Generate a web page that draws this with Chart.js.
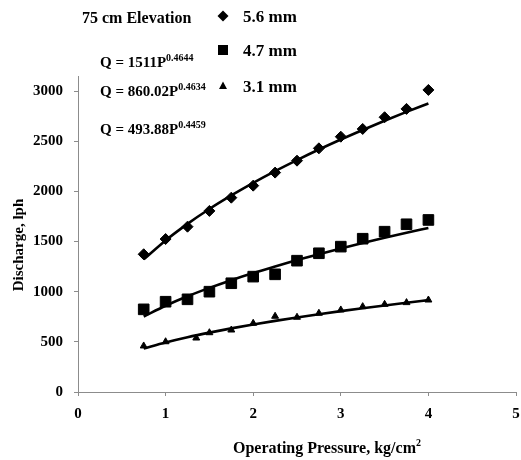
<!DOCTYPE html>
<html>
<head>
<meta charset="utf-8">
<script src="https://cdn.jsdelivr.net/npm/chart.js@4/dist/chart.umd.min.js"></script>
<style>
  html, body { margin: 0; padding: 0; background: #fff; }
  canvas { display: block; }
</style>
</head>
<body>
<canvas id="c" width="521" height="460"></canvas>
<script>
// ---- data ----
const pressure = [0.75, 1, 1.25, 1.5, 1.75, 2, 2.25, 2.5, 2.75, 3, 3.25, 3.5, 3.75, 4];
const pressure31 = [0.75, 1, 1.35, 1.5, 1.75, 2, 2.25, 2.5, 2.75, 3, 3.25, 3.5, 3.75, 4];
const obs56 = [1373, 1525, 1648, 1805, 1937, 2057, 2187, 2306, 2429, 2545, 2622, 2739, 2822, 3011];
const obs47 = [824, 900, 924, 1000, 1084, 1150, 1173, 1309, 1383, 1449, 1528, 1598, 1672, 1715];
const obs31 = [459, 501, 538, 591, 618, 685, 755, 745, 785, 818, 851, 874, 891, 917];
// trend (power fit) curves
const fit56 = [1322, 1511, 1676, 1824, 1959, 2085, 2202, 2312, 2417, 2517, 2612, 2704, 2792, 2876];
const fit47 = [753, 860, 954, 1038, 1115, 1186, 1252, 1315, 1374, 1431, 1485, 1537, 1587, 1635];
const fit31 = [434, 494, 546, 592, 634, 673, 709, 743, 775, 806, 835, 863, 890, 916];
const seriesNames = ['5.6 mm', '4.7 mm', '3.1 mm'];
const equations = [['Q = 1511P', '0.4644'], ['Q = 860.02P', '0.4634'], ['Q = 493.88P', '0.4459']];
const xTicks = [0, 1, 2, 3, 4, 5];
const yTicks = [0, 500, 1000, 1500, 2000, 2500, 3000];
const chartTitle = '75 cm Elevation';
const xTitle = 'Operating Pressure, kg/cm';
const yTitle = 'Discharge, lph';

const FONT = '"Liberation Serif", "Times New Roman", serif';
const pts = (xs, ys) => xs.map((x, i) => ({ x: x, y: ys[i] }));

function markerDs(label, xs, ys, style, r) {
  return { label, data: pts(xs, ys), showLine: false, pointStyle: style, pointRadius: r,
    pointHoverRadius: r, pointBackgroundColor: '#000', pointBorderColor: '#000', pointBorderWidth: 1, order: 1 };
}
function fitDs(label, xs, ys) {
  return { label, data: pts(xs, ys), showLine: true, pointRadius: 0, borderColor: '#000',
    borderWidth: 2.6, tension: 0.4, cubicInterpolationMode: 'monotone', fill: false, order: 2 };
}

const textPlugin = {
  id: 'texts',
  afterDraw(chart) {
    const ctx = chart.ctx;
    ctx.save();
    ctx.fillStyle = '#000';
    ctx.textBaseline = 'alphabetic';
    ctx.textAlign = 'left';
    // title
    ctx.font = 'bold 16px ' + FONT;
    ctx.fillText(chartTitle, 82, 23);
    // legend
    const rows = [16, 50, 86];
    ctx.font = 'bold 17px ' + FONT;
    seriesNames.forEach((n, i) => ctx.fillText(n, 243, rows[i] + 6));
    const mx = 223;
    ctx.beginPath();
    ctx.moveTo(mx, rows[0] - 5.5); ctx.lineTo(mx + 5.5, rows[0]); ctx.lineTo(mx, rows[0] + 5.5); ctx.lineTo(mx - 5.5, rows[0]);
    ctx.closePath(); ctx.fill();
    ctx.fillRect(mx - 5, rows[1] - 5, 10, 10);
    ctx.beginPath();
    ctx.moveTo(mx, rows[2] - 4.5); ctx.lineTo(mx + 4, rows[2] + 3); ctx.lineTo(mx - 4, rows[2] + 3);
    ctx.closePath(); ctx.fill();
    // equations
    const eqBase = [67, 96, 134];
    equations.forEach((e, i) => {
      ctx.font = 'bold 15px ' + FONT;
      ctx.fillText(e[0], 100, eqBase[i]);
      const w = ctx.measureText(e[0]).width;
      ctx.font = 'bold 10px ' + FONT;
      ctx.fillText(e[1], 100 + w, eqBase[i] - 6);
    });
    // y title
    ctx.save();
    ctx.translate(23, 245);
    ctx.rotate(-Math.PI / 2);
    ctx.textAlign = 'center';
    ctx.font = 'bold 15px ' + FONT;
    ctx.fillText(yTitle, 0, 0);
    ctx.restore();
    // x title
    ctx.font = 'bold 16px ' + FONT;
    const tw = ctx.measureText(xTitle).width;
    ctx.font = 'bold 10px ' + FONT;
    const sw = ctx.measureText('2').width;
    const x0 = 327 - (tw + sw) / 2;
    ctx.font = 'bold 16px ' + FONT;
    ctx.fillText(xTitle, x0, 453);
    ctx.font = 'bold 10px ' + FONT;
    ctx.fillText('2', x0 + tw, 446);
    ctx.restore();
  }
};

const axisColor = '#8c8c8c';
new Chart(document.getElementById('c'), {
  type: 'scatter',
  data: {
    datasets: [
      markerDs(seriesNames[0], pressure, obs56, 'rectRot', 5.5),
      markerDs(seriesNames[1], pressure, obs47, 'rect', 7.5),
      markerDs(seriesNames[2], pressure31, obs31, 'triangle', 4),
      fitDs('fit 5.6', pressure, fit56),
      fitDs('fit 4.7', pressure, fit47),
      fitDs('fit 3.1', pressure, fit31)
    ]
  },
  options: {
    responsive: false,
    animation: false,
    layout: { autoPadding: false, padding: { left: 0, right: 5, top: 76, bottom: 0 } },
    plugins: { legend: { display: false }, tooltip: { enabled: false } },
    scales: {
      x: {
        type: 'linear', min: 0, max: 5,
        afterBuildTicks: s => { s.ticks = xTicks.map(v => ({ value: v })); },
        afterFit: s => { s.height = 68; s.paddingLeft = 0; s.paddingRight = 0; },
        grid: { display: true, drawOnChartArea: false, drawTicks: true, tickLength: 4, color: axisColor },
        border: { display: true, color: axisColor, width: 1, dash: [5, 2] },
        ticks: { color: '#000', font: { family: FONT, size: 15, weight: 'bold' }, padding: 9, maxRotation: 0,
          callback: v => String(v) }
      },
      y: {
        type: 'linear', min: 0, max: 3150,
        afterBuildTicks: s => { s.ticks = yTicks.map(v => ({ value: v })); },
        afterFit: s => { s.width = 78; s.paddingTop = 0; s.paddingBottom = 0; },
        grid: { display: true, drawOnChartArea: false, drawTicks: true, tickLength: 4, color: axisColor },
        border: { display: true, color: axisColor, width: 1, dash: [5, 2] },
        ticks: { color: '#000', font: { family: FONT, size: 15, weight: 'bold' }, padding: 11,
          callback: v => String(v) }
      }
    }
  },
  plugins: [textPlugin]
});
</script>
</body>
</html>
